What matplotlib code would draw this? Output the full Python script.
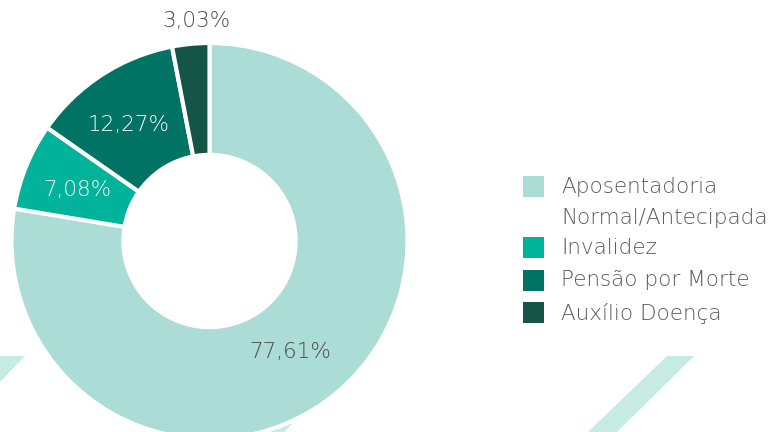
import matplotlib.pyplot as plt
from matplotlib.patches import Polygon, Rectangle
import numpy as np

plt.rcParams['font.family'] = ['DejaVu Sans']

# data
categories = ["Aposentadoria\nNormal/Antecipada", "Invalidez", "Pensão por Morte", "Auxílio Doença"]
values = [77.61, 7.08, 12.27, 3.03]
labels = ["77,61%", "7,08%", "12,27%", "3,03%"]
colors = ["#abdcd6", "#00b39a", "#007364", "#145548"]
label_colors = ["#4a4a4a", "white", "white", "#4a4a4a"]
label_radius = [0.72, 0.72, 0.72, 1.12]
# small nudges in pixels (dx right, dy down)
label_nudge = [(-11, 2), (0, 3), (-3, 4), (8, 1)]

W, H = 777, 432
fig = plt.figure(figsize=(W / 100, H / 100), dpi=100)


def px(x, y):
    # pixel coords (from top-left) -> figure fraction
    return (x / W, 1 - y / H)


# background stripes
stripe = "#c5ebe2"
for pts in [
    [(0, 356), (25, 356), (0, 382)],
    [(667, 356), (694, 356), (617, 432), (588, 432)],
    [(283, 424), (292, 424), (284, 432), (270, 432)],
]:
    fig.patches.append(Polygon([px(*p) for p in pts], closed=True, transform=fig.transFigure,
                               facecolor=stripe, edgecolor="none", zorder=0))

# donut
cx, cy, r = 209.5, 241, 198
ax = fig.add_axes([(cx - r) / W, 1 - (cy + r) / H, 2 * r / W, 2 * r / H])
ax.set_zorder(1)
ax.patch.set_alpha(0)
wedges, _ = ax.pie(values, colors=colors, startangle=90, counterclock=False,
                   radius=1, wedgeprops=dict(width=0.565, edgecolor="white", linewidth=3))
ax.set_xlim(-1, 1)
ax.set_ylim(-1, 1)
ax.set_aspect("equal")
ax.axis("off")
for w in wedges:
    w.set_clip_on(False)

for w, lab, col, rr, (dx, dy) in zip(wedges, labels, label_colors, label_radius, label_nudge):
    ang = np.deg2rad((w.theta1 + w.theta2) / 2)
    x = rr * np.cos(ang) + dx / r
    y = rr * np.sin(ang) - dy / r
    ax.text(x, y, lab, ha="center", va="center", fontsize=15.5, color=col, fontweight="light")

# legend
lx = 523
rows = [187, 248, 280.5, 313]
for cat, col, yy in zip(categories, colors, rows):
    x0, y0 = px(lx, yy + 10)
    fig.patches.append(Rectangle((x0, y0), 21 / W, 21 / H, transform=fig.transFigure,
                                 facecolor=col, edgecolor="none"))
    for k, line in enumerate(cat.split("\n")):
        fig.text(*px(561, yy + k * 31), line, ha="left", va="center", fontsize=15.5,
                 color="#5a5a5a", fontweight="light")

fig.savefig("out.png", dpi=100)
